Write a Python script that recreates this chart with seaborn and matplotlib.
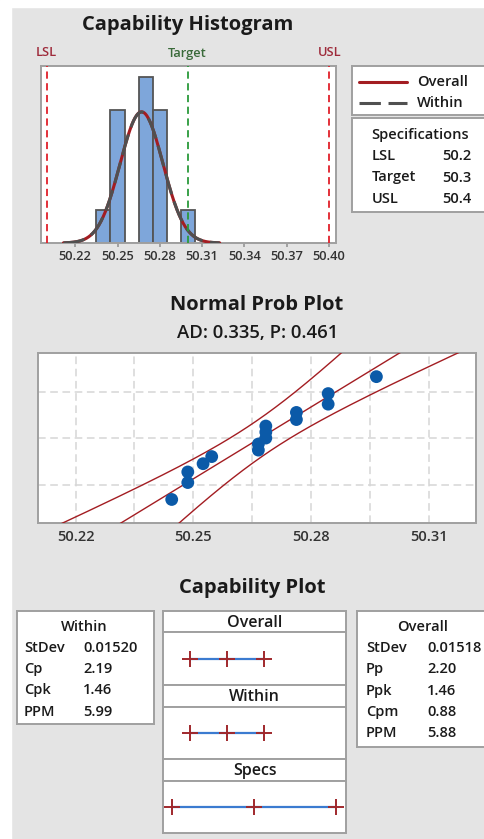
import numpy as np
import matplotlib
matplotlib.use('Agg')
import matplotlib.pyplot as plt
import seaborn as sns
from matplotlib.patches import Rectangle
from statistics import NormalDist

data = [50.2445, 50.2486, 50.2486, 50.2525, 50.2547, 50.2666, 50.2666, 50.2685,
        50.2685, 50.2685, 50.2763, 50.2763, 50.2844, 50.2844, 50.2967]
bin_edges = [50.235, 50.245, 50.255, 50.265, 50.275, 50.285, 50.295, 50.305]

lsl, target, usl = 50.2, 50.3, 50.4
sd_overall, sd_within = 0.01518, 0.01520

hist_ticks = [50.22, 50.25, 50.28, 50.31, 50.34, 50.37, 50.40]
prob_ticks = [50.22, 50.25, 50.28, 50.31]
prob_grid_pct = [10, 50, 90]

spec_rows = [('LSL', '50.2'), ('Target', '50.3'), ('USL', '50.4')]
within_rows = [('StDev', '0.01520'), ('Cp', '2.19'), ('Cpk', '1.46'), ('PPM', '5.99')]
overall_rows = [('StDev', '0.01518'), ('Pp', '2.20'), ('Ppk', '1.46'), ('Cpm', '0.88'), ('PPM', '5.88')]
ad_text = 'AD: 0.335, P: 0.461'

sns.set_theme(style='white')
plt.rcParams['font.family'] = ['Open Sans', 'DejaVu Sans']

W, H = 484, 839
BG = '#e4e4e4'
BOX = '#a0a0a0'
DARKRED = '#a31d22'
TXT = '#1a1a1a'
FS = 10.5      # body text
FT = 14.5      # titles
WB = 'semibold'
WITHIN_DASH = (0, (7, 2.5))

fig = plt.figure(figsize=(W / 100, H / 100), dpi=100)
fig.patch.set_facecolor(BG)
# white margin on the left/top of the screenshot
fig.patches.append(Rectangle((0, 0), 11 / W, 1, transform=fig.transFigure, color='white', zorder=-1))
fig.patches.append(Rectangle((0, 1 - 7 / H), 1, 7 / H, transform=fig.transFigure, color='white', zorder=-1))


def px_axes(x0, y0, x1, y1):
    ax = fig.add_axes([x0 / W, 1 - y1 / H, (x1 - x0) / W, (y1 - y0) / H])
    ax.set_facecolor('white')
    for s in ax.spines.values():
        s.set_color(BOX)
        s.set_linewidth(1.4)
    return ax


def box_axes(x0, y0, x1, y1):
    ax = px_axes(x0, y0, x1, y1)
    ax.set_xticks([])
    ax.set_yticks([])
    ax.set_xlim(0, 1)
    ax.set_ylim(0, 1)
    return ax


def ftext(x, y, s, **kw):
    kw.setdefault('color', TXT)
    kw.setdefault('weight', WB)
    fig.text(x / W, 1 - y / H, s, **kw)


mean = float(np.mean(data))
nd = NormalDist()

## Capability histogram
ax = px_axes(41, 66, 336, 243)
sns.histplot(x=data, bins=bin_edges, ax=ax, color='#7ea6da', alpha=1,
             edgecolor='#555555', linewidth=1.3)
xs = np.linspace(mean - 3.65 * sd_overall, mean + 3.65 * sd_overall, 300)
scale = len(data) * 0.01
ax.plot(xs, scale * np.array([NormalDist(mean, sd_overall).pdf(v) for v in xs]),
        color=DARKRED, lw=2.2, zorder=3)
ax.plot(xs, scale * np.array([NormalDist(mean, sd_within).pdf(v) for v in xs]),
        color='#505050', lw=2.2, ls=WITHIN_DASH, zorder=4)
for v, c in [(lsl, '#e0202a'), (usl, '#e0202a'), (target, '#2a9a3a')]:
    ax.axvline(v, color=c, ls=(0, (4, 2.5)), lw=1.3, zorder=5)
ax.set_xlim(50.1957, 50.405)
ax.set_ylim(0, 5.32)
ax.set_yticks([])
ax.set_ylabel('')
ax.set_xticks(hist_ticks)
ax.set_xticklabels([f'{t:.2f}' for t in hist_ticks], fontsize=9.3, color='#333333', weight=WB)
ax.tick_params(axis='x', length=3, color='#999999', pad=2, bottom=True)
ftext(188, 25, 'Capability Histogram', fontsize=FT, weight='bold', ha='center', va='center')
ftext(46, 53, 'LSL', fontsize=9.3, color='#9e2a3a', ha='center', va='center')
ftext(187, 53, 'Target', fontsize=9.3, color='#3a6a3a', ha='center', va='center')
ftext(330, 53, 'USL', fontsize=9.3, color='#9e2a3a', ha='center', va='center')

# legend box
lg = box_axes(352, 66, 490, 115)
lg.plot([0.05, 0.40], [0.67, 0.67], color=DARKRED, lw=2.2)
lg.plot([0.05, 0.40], [0.24, 0.24], color='#505050', lw=2.2, ls=WITHIN_DASH)
ftext(417, 82, 'Overall', fontsize=FS, ha='left', va='center')
ftext(417, 103, 'Within', fontsize=FS, ha='left', va='center')

# specifications box
sp = box_axes(352, 118, 490, 212)
ftext(371, 135, 'Specifications', fontsize=FS, ha='left', va='center')
for i, (k, v) in enumerate(spec_rows):
    ftext(372, 156 + i * 21.5, k, fontsize=FS, ha='left', va='center')
    ftext(471, 156 + i * 21.5, v, fontsize=FS, ha='right', va='center')

## Normal probability plot
ftext(257, 305, 'Normal Prob Plot', fontsize=FT, weight='bold', ha='center', va='center')
ftext(258, 333, ad_text, fontsize=13.3, ha='center', va='center')
pp = px_axes(38, 352.7, 476, 522.7)
srt = np.sort(data)
n = len(srt)
zpos = [nd.inv_cdf((i + 1 - 0.3) / (n + 0.4)) for i in range(n)]
zz = np.linspace(-3.2, 3.2, 200)
half = 1.96 * sd_overall / np.sqrt(n) * np.sqrt(1 + zz ** 2 / 2)
fit_x = mean + zz * sd_overall
for xline in (fit_x, fit_x - half, fit_x + half):
    pp.plot(xline, zz, color=DARKRED, lw=1.0, zorder=3)
sns.scatterplot(x=srt, y=zpos, ax=pp, color='#0b5aa8', s=85, edgecolor='none', zorder=4)
pp.set_xlim(50.2104, 50.3221)
pp.set_ylim(-2.33, 2.35)
pp.set_xticks(prob_ticks)
pp.set_xticks([50.235, 50.265, 50.295], minor=True)
pp.set_xticklabels([f'{t:.2f}' for t in prob_ticks], fontsize=10.5, color='#333333', weight=WB)
pp.set_yticks([nd.inv_cdf(p / 100) for p in prob_grid_pct])
pp.set_yticklabels([])
pp.tick_params(axis='both', which='both', length=0, pad=5)
pp.grid(True, which='both', color='#d6d6d6', ls=(0, (5, 3)), lw=1.1)
pp.set_axisbelow(True)

## Capability plot
ftext(252, 588, 'Capability Plot', fontsize=FT, weight='bold', ha='center', va='center')

wb = box_axes(17, 611, 154, 724)
ftext(84, 627, 'Within', fontsize=FS, ha='center', va='center')
for i, (k, v) in enumerate(within_rows):
    ftext(24, 648 + i * 21.2, k, fontsize=FS, ha='left', va='center')
    ftext(83, 648 + i * 21.2, v, fontsize=FS, ha='left', va='center')

ob = box_axes(357, 611, 490, 747)
ftext(423, 627, 'Overall', fontsize=FS, ha='center', va='center')
for i, (k, v) in enumerate(overall_rows):
    ftext(366, 648 + i * 21.3, k, fontsize=FS, ha='left', va='center')
    ftext(427, 648 + i * 21.3, v, fontsize=FS, ha='left', va='center')

panels = [
    ('Overall', 611, 632, 685, [mean - 3 * sd_overall, mean, mean + 3 * sd_overall]),
    ('Within', 685, 707, 759, [mean - 3 * sd_within, mean, mean + 3 * sd_within]),
    ('Specs', 759, 781, 833, [lsl, target, usl]),
]
for name, y0, y1, y2, vals in panels:
    hd = box_axes(163, y0, 346, y1)
    hd.text(0.5, 0.45, name, fontsize=11.5, weight=WB, ha='center', va='center', color=TXT)
    bd = px_axes(163, y1, 346, y2)
    bd.plot(vals, [0, 0, 0], color='#3b7bd0', lw=1.6, zorder=2)
    bd.plot(vals, [0, 0, 0], ls='none', marker='+', ms=11, mew=1.4, color='#a0282c', zorder=3)
    bd.set_xlim(50.189, 50.412)
    bd.set_ylim(-1, 1)
    bd.set_xticks([])
    bd.set_yticks([])

fig.savefig('out.png', dpi=100, facecolor=fig.get_facecolor())
